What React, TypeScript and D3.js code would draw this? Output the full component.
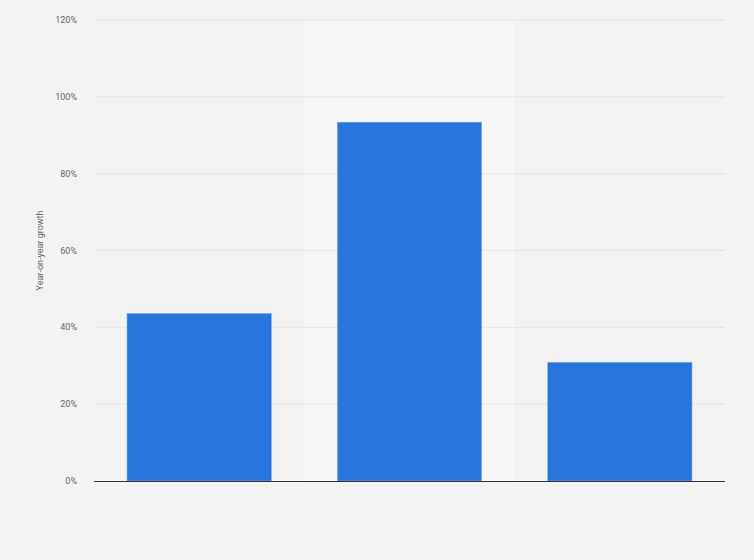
import React from "react";
import * as d3 from "d3";

const categories = ["A", "B", "C"];
const growthValues = [43.6, 93.4, 30.9];
const yTicks = [0, 20, 40, 60, 80, 100, 120];
const highlightedCategory = "B";

const W = 754;
const H = 560;
const margin = { top: 20, right: 29, bottom: 79, left: 94 };

export default function App() {
  const x = d3
    .scaleBand<string>()
    .domain(categories)
    .range([margin.left, W - margin.right])
    .paddingInner(0)
    .paddingOuter(0);
  const y = d3.scaleLinear().domain([0, 120]).range([H - margin.bottom, margin.top]);
  const bw = x.bandwidth();
  const barW = bw * 0.686;

  return (
    <svg
      width={W}
      height={H}
      style={{ position: "absolute", left: 0, top: 0, display: "block" }}
      fontFamily="Roboto, 'Liberation Sans', Arial, sans-serif"
    >
      <rect x={0} y={0} width={W} height={H} fill="#f3f3f3" />
      <rect
        x={x(highlightedCategory)!}
        y={margin.top}
        width={bw}
        height={H - margin.bottom - margin.top}
        fill="#f8f8f8"
      />
      {yTicks.map((t) => (
        <g key={t}>
          {t !== 0 && (
            <line
              x1={margin.left}
              x2={W - margin.right}
              y1={y(t)}
              y2={y(t)}
              stroke="#d6d6d6"
              strokeWidth={1}
              strokeDasharray="1,1"
            />
          )}
          <text
            x={77}
            y={y(t)}
            dy="0.35em"
            textAnchor="end"
            fontSize={9}
            fill="#666"
          >
            {t}%
          </text>
        </g>
      ))}
      {categories.map((c, i) => (
        <rect
          key={c}
          x={x(c)! + (bw - barW) / 2}
          y={y(growthValues[i])}
          width={barW}
          height={y(0) - y(growthValues[i])}
          fill="#2876dd"
          stroke="#7aa9ea"
          strokeWidth={0.6}
        />
      ))}
      <line
        x1={margin.left}
        x2={W - margin.right}
        y1={y(0) + 0.5}
        y2={y(0) + 0.5}
        stroke="#333"
        strokeWidth={1.2}
      />
      <text
        transform={`translate(43,${(margin.top + H - margin.bottom) / 2}) rotate(-90)`}
        textAnchor="middle"
        fontSize={9}
        fill="#666"
      >
        Year-on-year growth
      </text>
    </svg>
  );
}
